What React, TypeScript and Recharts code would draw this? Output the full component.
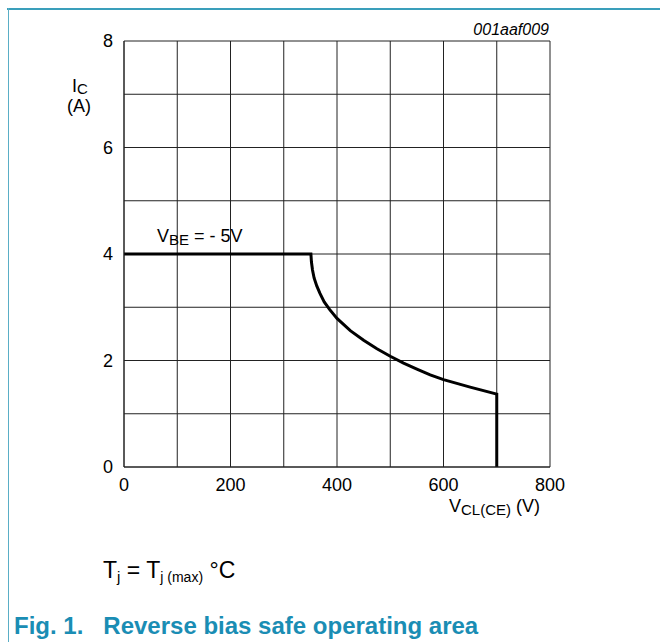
import React from "react";
import { LineChart, Line, XAxis, YAxis, CartesianGrid } from "recharts";

// RBSOA boundary
const vce = [0, 351, 352, 354, 357, 362, 368, 376, 386, 400, 425, 450, 475, 500, 525, 550, 575, 600, 650, 700, 700];
const ic = [4, 4, 3.85, 3.7, 3.55, 3.4, 3.26, 3.1, 2.96, 2.79, 2.56, 2.38, 2.22, 2.08, 1.95, 1.84, 1.73, 1.64, 1.5, 1.37, 0];

const xTicks = [0, 100, 200, 300, 400, 500, 600, 700, 800];
const yTicks = [0, 1, 2, 3, 4, 5, 6, 7, 8];

const teal = "#1a8db4";
const font = "'Liberation Sans', Arial, sans-serif";

export default function App() {
  const data = vce.map((v, i) => ({ vce: v, ic: ic[i] }));

  return (
    <div style={{ position: "absolute", left: 0, top: 0, width: 660, height: 642, background: "#fff", fontFamily: font }}>
      <div style={{ position: "absolute", left: 7, top: 8, width: 653, height: 2, background: "#3a9fbb" }} />
      <div style={{ position: "absolute", left: 8, top: 8, width: 1, height: 634, background: "#5aaec6" }} />

      <LineChart width={660} height={642} data={data} margin={{ top: 41, right: 110, bottom: 145, left: 84 }}>
        <CartesianGrid stroke="#222" strokeWidth={1} />
        <XAxis
          dataKey="vce"
          type="number"
          domain={[0, 800]}
          ticks={xTicks}
          interval={0}
          tickFormatter={(v: number) => (v % 200 === 0 ? String(v) : "")}
          tickLine={false}
          tickSize={6}
          tickMargin={5}
          axisLine={{ stroke: "#222" }}
          tick={{ fontSize: 18, fill: "#000", fontFamily: font }}
          height={30}
        />
        <YAxis
          type="number"
          domain={[0, 8]}
          ticks={yTicks}
          interval={0}
          tickFormatter={(v: number) => (v % 2 === 0 ? String(v) : "")}
          tickLine={false}
          tickSize={6}
          tickMargin={5}
          axisLine={{ stroke: "#222" }}
          tick={{ fontSize: 18, fill: "#000", fontFamily: font }}
          width={40}
        />
        <Line
          dataKey="ic"
          type="linear"
          stroke="#000"
          strokeWidth={3}
          dot={false}
          isAnimationActive={false}
        />
      </LineChart>

      <svg width={660} height={642} style={{ position: "absolute", left: 0, top: 0, pointerEvents: "none" }}>
        <g fontFamily={font} fill="#000">
          <text x={549} y={35} fontSize={16} fontStyle="italic" textAnchor="end">001aaf009</text>
          <text x={72} y={92} fontSize={18}>I<tspan fontSize={15} dy={2}>C</tspan></text>
          <text x={67} y={112} fontSize={18}>(A)</text>
          <text x={157} y={242} fontSize={18}>V<tspan fontSize={15} dy={3}>BE</tspan><tspan dy={-3}> = - 5V</tspan></text>
          <text x={449} y={512} fontSize={18}>V<tspan fontSize={15} dy={3}>CL(CE)</tspan><tspan dy={-3}> (V)</tspan></text>
          <text x={103} y={578} fontSize={23}>T<tspan fontSize={15} dy={4}>j</tspan><tspan dy={-4}> = T</tspan><tspan fontSize={14} dy={4}>j (max)</tspan><tspan dy={-4}> °C</tspan></text>
          <text x={14} y={634} fontSize={24} fontWeight="bold" fill={teal} xmlSpace="preserve">Fig. 1.   Reverse bias safe operating area</text>
        </g>
      </svg>
    </div>
  );
}
